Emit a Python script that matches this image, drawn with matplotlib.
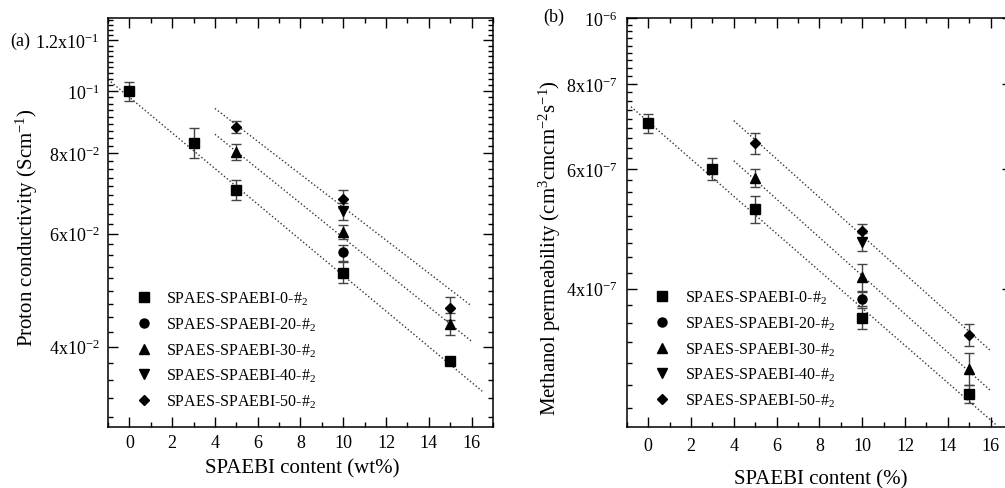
import numpy as np
import matplotlib
matplotlib.use('Agg')
import matplotlib.pyplot as plt
from matplotlib.ticker import FixedLocator, FixedFormatter, MultipleLocator, NullFormatter

plt.rcParams['font.family'] = ['Liberation Serif', 'DejaVu Serif']
plt.rcParams['mathtext.fontset'] = 'custom'
plt.rcParams['mathtext.rm'] = 'Liberation Serif'
plt.rcParams['mathtext.it'] = 'Liberation Serif:italic'

labels = ['SPAES-SPAEBI-0-#$_2$', 'SPAES-SPAEBI-20-#$_2$', 'SPAES-SPAEBI-30-#$_2$',
          'SPAES-SPAEBI-40-#$_2$', 'SPAES-SPAEBI-50-#$_2$']
markers = ['s', 'o', '^', 'v', 'D']
msizes = [6.5, 6.5, 6.5, 6.5, 5.2]

# (a) proton conductivity, S/cm
a_x = [[0, 3, 5, 10, 15], [10], [5, 10, 15], [10], [5, 10, 15]]
a_y = [[0.100, 0.0831, 0.0702, 0.0522, 0.0380],
       [0.0561],
       [0.0805, 0.0604, 0.0434],
       [0.0650],
       [0.0880, 0.0680, 0.0460]]
a_err = [[0.0035, 0.0045, 0.0025, 0.0020, 0.0],
         [0.0016],
         [0.0023, 0.0015, 0.0017],
         [0.0019],
         [0.0019, 0.0022, 0.0019]]
# dotted trend lines (start/end)
a_fit_x = [[-1, 16.5], [4, 16], [4, 16]]
a_fit_y = [[0.1043, 0.0341], [0.0857, 0.0408], [0.0940, 0.0463]]
a_major = [0.04, 0.06, 0.08, 0.10, 0.12]
a_ticklabels = ['4x10$^{-2}$', '6x10$^{-2}$', '8x10$^{-2}$', '10$^{-1}$', '1.2x10$^{-1}$']

# (b) methanol permeability, cm3 cm cm-2 s-1
b_x = [[0, 3, 5, 10, 15], [10], [5, 10, 15], [10], [5, 10, 15]]
b_y = [[7.00e-7, 6.00e-7, 5.24e-7, 3.62e-7, 2.80e-7],
       [3.86e-7],
       [5.82e-7, 4.16e-7, 3.05e-7],
       [4.685e-7],
       [6.54e-7, 4.86e-7, 3.42e-7]]
b_err = [[0.22e-7, 0.23e-7, 0.24e-7, 0.13e-7, 0.085e-7],
         [0.09e-7],
         [0.18e-7, 0.19e-7, 0.165e-7],
         [0.145e-7],
         [0.23e-7, 0.12e-7, 0.13e-7]]
b_fit_x = [[-0.8, 16.3], [4, 16], [4, 16]]
b_fit_y = [[7.405e-7, 2.514e-7], [6.167e-7, 2.83e-7], [7.064e-7, 3.24e-7]]
b_major = [4e-7, 6e-7, 8e-7, 1e-6]
b_ticklabels = ['4x10$^{-7}$', '6x10$^{-7}$', '8x10$^{-7}$', '10$^{-6}$']


def minor_ticks(major, lo, hi):
    step0 = (major[1] - major[0]) / 9
    step1 = (major[-1] - major[-2]) / 9
    out = []
    v = major[0] - step0
    while v > lo:
        out.append(v)
        v -= step0
    for i in range(len(major) - 1):
        out += list(np.linspace(major[i], major[i + 1], 10)[1:-1])
    v = major[-1] + step1
    while v < hi:
        out.append(v)
        v += step1
    return out


def draw(ax, xs, ys, errs, fx, fy, major, ticklabels, ylim, ypad, xpad):
    for fxx, fyy in zip(fx, fy):
        ax.plot(fxx, fyy, ls=':', color='#333333', lw=1.0, zorder=1)
    for i in range(5):
        ax.errorbar(xs[i], ys[i], yerr=errs[i], fmt='none', ecolor='#444444',
                    elinewidth=1.0, capsize=3.5, capthick=1.0, zorder=2)
        ax.plot(xs[i], ys[i], ls='none', marker=markers[i], ms=msizes[i],
                color='black', label=labels[i], zorder=3)
    ax.set_yscale('log')
    ax.set_xlim(-1, 17)
    ax.set_ylim(*ylim)
    ax.yaxis.set_major_locator(FixedLocator(major))
    ax.yaxis.set_major_formatter(FixedFormatter(ticklabels))
    ax.yaxis.set_minor_locator(FixedLocator(minor_ticks(major, ylim[0], ylim[1])))
    ax.yaxis.set_minor_formatter(NullFormatter())
    ax.xaxis.set_major_locator(MultipleLocator(2))
    ax.xaxis.set_minor_locator(MultipleLocator(1))
    ax.tick_params(which='both', direction='in', top=True, right=True, width=1.0)
    ax.tick_params(which='major', length=7)
    ax.tick_params(which='minor', length=3.5)
    ax.tick_params(axis='y', which='major', labelsize=13, pad=ypad)
    ax.tick_params(axis='x', which='major', labelsize=13, pad=xpad)
    for s in ax.spines.values():
        s.set_linewidth(1.1)


fig = plt.figure(figsize=(10.05, 4.89), dpi=100)
ax1 = fig.add_axes([0.1075, 0.1247, 0.383, 0.8364])
ax2 = fig.add_axes([0.6236, 0.1241, 0.3834, 0.8370])

draw(ax1, a_x, a_y, a_err, a_fit_x, a_fit_y, a_major, a_ticklabels, (0.030, 0.130), 6, 5)
draw(ax2, b_x, b_y, b_err, b_fit_x, b_fit_y, b_major, b_ticklabels, (2.5e-7, 1e-6), 7, 7)

ax1.set_xlabel('SPAEBI content (wt%)', fontsize=15)
ax1.set_ylabel('Proton conductivity (Scm$^{-1}$)', fontsize=15)
ax1.xaxis.set_label_coords(0.504, -0.076)
ax1.yaxis.set_label_coords(-0.176, 0.489)

ax2.set_xlabel('SPAEBI content (%)', fontsize=15)
ax2.set_ylabel('Methanol permeability (cm$^{3}$cmcm$^{-2}$s$^{-1}$)', fontsize=15)
ax2.xaxis.set_label_coords(0.504, -0.102)
ax2.yaxis.set_label_coords(-0.166, 0.44)

for ax, anchor in [(ax1, (0.056, 0.352)), (ax2, (0.055, 0.355))]:
    ax.legend(loc='upper left', bbox_to_anchor=anchor, frameon=False, fontsize=11.5,
              handlelength=1.0, handletextpad=0.9, labelspacing=0.53, borderaxespad=0)

fig.text(10 / 1005, 1 - 41.7 / 489, '(a)', fontsize=13, va='center', ha='left')
fig.text(543 / 1005, 1 - 17 / 489, '(b)', fontsize=13, va='center', ha='left')

fig.savefig('out.png', dpi=100)
